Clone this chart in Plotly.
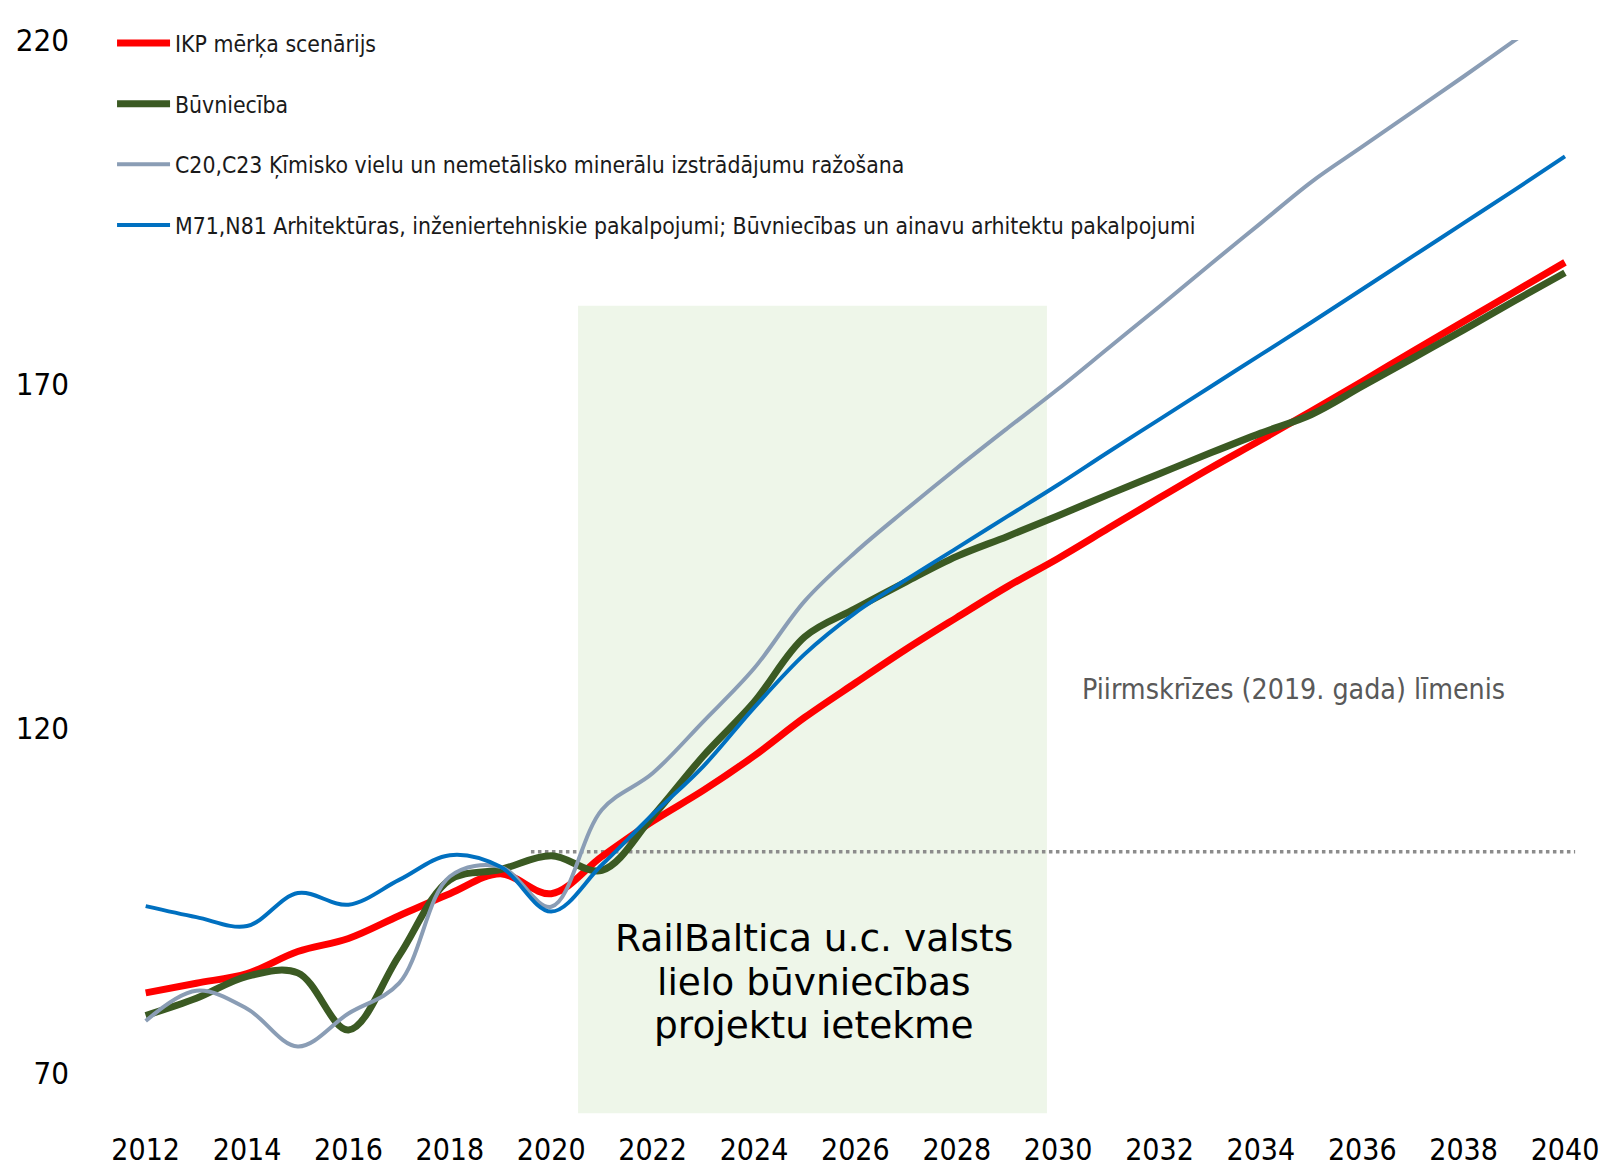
import plotly.graph_objects as go

years = list(range(2012, 2041))

ikp = [81.6, 83.0, 84.4, 87.6, 89.5, 92.8, 96.0, 98.9, 96.0, 101.4,
       106.5, 111.0, 116.0, 121.6, 126.6, 131.5, 136.1, 140.6, 144.7, 149.1,
       153.5, 157.8, 161.9, 166.1, 170.4, 174.8, 179.1, 183.4, 187.7]
buvn = [78.3, 80.8, 84.0, 84.5, 76.2, 87.0, 98.0, 99.5, 101.5, 99.4,
        107.2, 116.0, 123.8, 133.3, 137.4, 141.3, 145.0, 147.9, 150.9, 154.0,
        157.0, 160.0, 162.9, 165.6, 169.7, 173.8, 177.9, 182.1, 186.2]
c20 = [77.5, 81.9, 79.3, 73.8, 78.6, 83.0, 98.5, 99.9, 94.1, 108.2,
       113.5, 121.0, 128.7, 138.5, 145.6, 151.8, 157.8, 163.6, 169.3, 175.3,
       181.3, 187.4, 193.4, 199.4, 204.5, 209.6, 214.7, 219.9, 225.0]
m71 = [94.2, 92.6, 91.3, 96.1, 94.4, 98.0, 101.6, 99.9, 93.4, 100.2,
       107.5, 114.5, 123.0, 130.8, 136.8, 141.6, 146.2, 150.8, 155.4, 160.2,
       164.9, 169.6, 174.3, 179.0, 183.8, 188.6, 193.4, 198.2, 203.1]

names = [
    "IKP mērķa scenārijs",
    "Būvniecība",
    "C20,C23 Ķīmisko vielu un nemetālisko minerālu izstrādājumu ražošana",
    "M71,N81 Arhitektūras, inženiertehniskie pakalpojumi; Būvniecības un ainavu arhitektu pakalpojumi",
]
colors = ["#FF0000", "#3B5A23", "#8A9DB5", "#0070C0"]
widths = [7, 7, 4, 4]

# periods / levels for the shaded box and the dotted reference line
rb_start, rb_end = 2020.53, 2029.78
rb_low, rb_high = 64.1, 181.4
pre_crisis = 102.1
pre_start, pre_end = 2019.6, 2040.2

rb_lines = ["RailBaltica u.c. valsts", "lielo būvniecības", "projektu ietekme"]
rb_line_y = [89.6, 83.2, 76.9]

y_ticks = [70, 120, 170, 220]
x_ticks = list(range(2012, 2041, 2))

narrow = "DejaVu Sans Condensed, sans-serif"

fig = go.Figure()

for i, (vals, name) in enumerate(zip([ikp, buvn, c20, m71], names)):
    fig.add_trace(go.Scatter(
        x=years,
        y=vals,
        mode="lines",
        name=name,
        legendgroup=f"g{i}",
        line=dict(color=colors[i], width=widths[i], shape="spline", smoothing=1.0),
    ))

fig.add_shape(type="rect", xref="x", yref="y",
              x0=rb_start, x1=rb_end, y0=rb_low, y1=rb_high,
              fillcolor="#EEF6E9", line=dict(width=0), layer="below")
fig.add_shape(type="line", xref="x", yref="y",
              x0=pre_start, x1=pre_end, y0=pre_crisis, y1=pre_crisis,
              line=dict(color="#8C8C8C", width=3.5, dash="dot"), layer="below")

# three separate lines -> tighter line spacing, like the original
for txt, yy in zip(rb_lines, rb_line_y):
    fig.add_annotation(x=2025.19, y=yy, xref="x", yref="y",
                       text=txt, showarrow=False,
                       font=dict(family="DejaVu Sans, Verdana, sans-serif", size=37.5, color="#000000"))
fig.add_annotation(x=2034.64, y=125.6, xref="x", yref="y",
                   text="Piirmskrīzes (2019. gada) līmenis",
                   showarrow=False,
                   font=dict(family=narrow, size=28.3, color="#595959"))

# page body has an 8px margin, so the plot box is shifted up/left by 8px
fig.update_layout(
    width=1607,
    height=1172,
    margin=dict(l=87, r=12, t=32, b=66, autoexpand=False),
    paper_bgcolor="white",
    plot_bgcolor="white",
    font=dict(family=narrow, color="#000000"),
    showlegend=True,
    legend=dict(
        x=0.0113, y=1.017, xanchor="left", yanchor="top",
        font=dict(family=narrow, size=22.8, color="#1a1a1a"),
        bgcolor="rgba(0,0,0,0)",
        traceorder="grouped",
        tracegroupgap=28,
        itemwidth=53,
    ),
)

fig.update_xaxes(
    range=[2011, 2040.75],
    tickvals=x_ticks,
    ticktext=[str(t) for t in x_ticks],
    showgrid=False, zeroline=False, showline=False,
    ticks="", ticklabelstandoff=15, automargin=False,
    tickfont=dict(family=narrow, size=30, color="#000000"),
)
fig.update_yaxes(
    range=[64, 220],
    tickvals=y_ticks,
    showgrid=False, zeroline=False, showline=False,
    ticks="", ticklabelstandoff=25, automargin=False,
    tickfont=dict(family=narrow, size=31, color="#000000"),
)

fig.write_html("out.html")
